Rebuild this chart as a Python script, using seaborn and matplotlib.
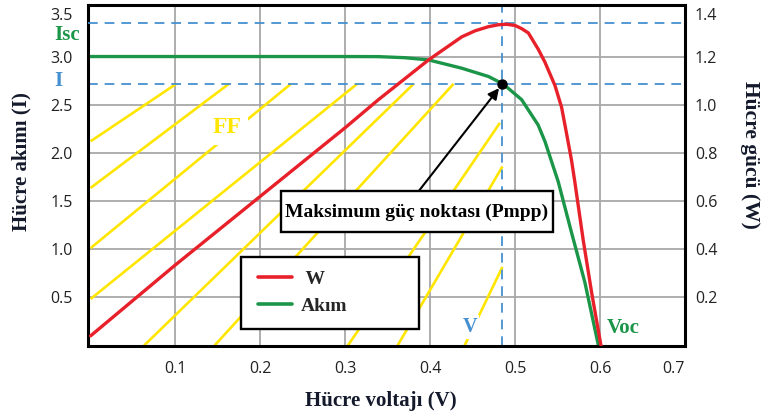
import matplotlib
matplotlib.use("Agg")
import matplotlib.pyplot as plt
import pandas as pd
import seaborn as sns
from matplotlib.lines import Line2D
from matplotlib.patches import Rectangle

# ---- data -------------------------------------------------------------
# I-V characteristic of the cell (current, A)
voltage_iv = [0.0, 0.10, 0.20, 0.30, 0.339, 0.370, 0.398, 0.437, 0.4685, 0.486,
              0.5076, 0.527, 0.535, 0.5507, 0.5663, 0.582, 0.598]
current_iv = [3.0, 3.0, 3.0, 3.0, 2.999, 2.988, 2.965, 2.879, 2.793, 2.714,
              2.552, 2.29, 2.12, 1.70, 1.174, 0.658, 0.0]

# P-V characteristic of the cell (power, W)
voltage_pv = [0.0, 0.10, 0.20, 0.30, 0.339, 0.398, 0.4372, 0.4529, 0.4685, 0.4802,
              0.490, 0.4998, 0.5076, 0.5155, 0.5272, 0.5351, 0.5468, 0.5546,
              0.5605, 0.5663, 0.5702, 0.580, 0.590, 0.601]
power_pv = [0.04, 0.335, 0.62, 0.905, 1.021, 1.186, 1.282, 1.307, 1.324, 1.332,
            1.334, 1.329, 1.316, 1.298, 1.230, 1.176, 1.080, 0.990,
            0.880, 0.770, 0.680, 0.440, 0.220, 0.0]

# maximum power point
v_mpp = 0.485
i_mpp = 2.717
p_max = 1.34

# fill-factor hatching: (start V, start I) -> (end V, end I)
ff_hatch = [
    ((0.0, 2.12), (0.101, 2.717)),
    ((0.0, 1.636), (0.163, 2.717)),
    ((0.0, 1.011), (0.236, 2.717)),
    ((0.0, 0.483), (0.314, 2.717)),
    ((0.063, 0.0), (0.3805, 2.717)),
    ((0.146, 0.0), (0.4275, 2.717)),
    ((0.303, 0.0), (0.482, 2.311)),
    ((0.3615, 0.0), (0.485, 1.859)),
    ((0.4404, 0.0), (0.485, 0.816)),
]

x_ticks = [0.1, 0.2, 0.3, 0.4, 0.5, 0.6, 0.7]
x_tick_labels = ["0.1", "0.2", "0.3", "0.4", "0.5", "0.6", "0.7"]
i_ticks = [0.5, 1.0, 1.5, 2.0, 2.5, 3.0, 3.5]
i_tick_labels = ["0.5", "1.0", "1.5", "2.0", "2.5", "3.0", "3.5"]
p_ticks = [0.2, 0.4, 0.6, 0.8, 1.0, 1.2, 1.4]
p_tick_labels = ["0.2", "0.4", "0.6", "0.8", "1.0", "1.2", "1.4"]

# ---- style ------------------------------------------------------------
sns.set_theme(style="white")
plt.rcParams["font.family"] = ["Open Sans", "DejaVu Sans"]

SERIF = ["Liberation Serif", "DejaVu Serif"]
RED = "#e8202a"
GREEN = "#1b9548"
BLUE = "#4590d0"
YELLOW = "#ffe600"
GRID = "#a8a8a8"
LABEL = "#141a2c"
TICK = "#222222"

fig = plt.figure(figsize=(7.62, 4.19), dpi=100)
ax = fig.add_axes([0.1155, 0.1754, 0.7835, 0.8115])
ax2 = ax.twinx()

iv = pd.DataFrame({"Gerilim": voltage_iv, "Akım": current_iv})
pv = pd.DataFrame({"Gerilim": voltage_pv, "Güç": power_pv})

# ---- curves -----------------------------------------------------------
sns.lineplot(data=iv, x="Gerilim", y="Akım", ax=ax, color=GREEN, lw=2.4,
             sort=False, legend=False, zorder=4, solid_joinstyle="round")
sns.lineplot(data=pv, x="Gerilim", y="Güç", ax=ax2, color=RED, lw=2.4,
             sort=False, legend=False, zorder=4, solid_joinstyle="round")

# fill-factor hatching
for (v0, c0), (v1, c1) in ff_hatch:
    ax.plot([v0, v1], [c0, c1], color=YELLOW, lw=1.9,
            solid_capstyle="butt", zorder=1.5)

# reference lines of the maximum power point
dash_lw = 1.3
dash = (7.0 / dash_lw, 5.0 / dash_lw)
ax.axhline(i_mpp, color=BLUE, lw=dash_lw, dashes=dash, zorder=2)
ax.axvline(v_mpp, color=BLUE, lw=dash_lw, dashes=dash, zorder=2)
ax2.axhline(p_max, color=BLUE, lw=dash_lw, dashes=dash, zorder=2)

# ---- axes -------------------------------------------------------------
ax.set_xlim(-0.003, 0.70)
ax.set_ylim(0, 3.53)
ax2.set_ylim(0, 3.53 * 0.4)

ax.set_xticks(x_ticks, x_tick_labels)
ax.set_yticks(i_ticks, i_tick_labels)
ax2.set_yticks(p_ticks, p_tick_labels)
ax.set_xlabel("")
ax.set_ylabel("")
ax2.set_ylabel("")

ax.grid(True, color=GRID, lw=1.3)
ax2.grid(False)
ax.get_ygridlines()[-1].set_visible(False)

ax.tick_params(axis="x", length=0, labelsize=11.5, pad=11.5, colors=TICK)
ax.tick_params(axis="y", length=0, labelsize=11.5, pad=11, colors=TICK)
ax2.tick_params(axis="y", length=0, labelsize=11.5, pad=7, colors=TICK)
ax.get_xticklabels()[-1].set_ha("right")
ax.get_yticklabels()[-1].set_va("top")
ax2.get_yticklabels()[-1].set_va("top")

for sp in ax.spines.values():
    sp.set_color("black")
    sp.set_linewidth(2.2)
    sp.set_zorder(6)
for sp in ax2.spines.values():
    sp.set_visible(False)

# ---- annotations (in the power axes so they sit above every curve) ----
data = ax.transData

ax2.text(0.1605, 2.268, "FF", transform=data, color=YELLOW, fontsize=17,
         family=SERIF, weight="bold", ha="center", va="center",
         bbox=dict(boxstyle="square,pad=0.3", fc="white", ec="none"), zorder=5)
ax2.text(0.447, 0.191, "V", transform=data, color=BLUE, fontsize=14.5,
         family=SERIF, weight="bold", ha="center", va="center",
         bbox=dict(boxstyle="square,pad=0.1", fc="white", ec="none"), zorder=5)
ax2.text(0.6276, 0.181, "Voc", transform=data, color=GREEN, fontsize=15,
         family=SERIF, weight="bold", ha="center", va="center", zorder=5)
ax2.text(-0.0273, 3.223, "Isc", transform=data, color=GREEN, fontsize=15,
         family=SERIF, weight="bold", ha="center", va="center", clip_on=False)
ax2.text(-0.038, 2.743, "I", transform=data, color=BLUE, fontsize=15,
         family=SERIF, weight="bold", ha="center", va="center", clip_on=False)

# maximum power point marker and callout
ax2.plot([v_mpp], [i_mpp], transform=data, marker="o", ms=6.5,
         color="black", zorder=7)
ax2.annotate("", xy=(v_mpp, i_mpp), xycoords=data,
             xytext=(0.3865, 1.604), textcoords=data,
             arrowprops=dict(arrowstyle="-|>", color="black", lw=1.5,
                             mutation_scale=16, shrinkA=0, shrinkB=4),
             zorder=6)
ax2.add_patch(Rectangle((0.224, 1.175), 0.321, 0.429, transform=data,
                        fc="white", ec="black", lw=1.7, zorder=6))
ax2.text(0.3835, 1.385, "Maksimum güç noktası (Pmpp)", transform=data,
         color="black", fontsize=14, family=SERIF, weight="bold",
         ha="center", va="center", zorder=7)

# legend
ax2.add_patch(Rectangle((0.177, 0.176), 0.2094, 0.740, transform=data,
                        fc="white", ec="black", lw=1.7, zorder=6))
handles = [Line2D([], [], color=RED, lw=2.6), Line2D([], [], color=GREEN, lw=2.6)]
leg = ax2.legend(handles, [" W", "Akım"], loc="center left",
                 bbox_to_anchor=(0.1855, 0.548), bbox_transform=data,
                 frameon=False, borderpad=0, handlelength=1.75,
                 handletextpad=0.45, labelspacing=0.5,
                 prop=dict(family=SERIF, weight="bold", size=14))
leg.set_zorder(8)

# axis titles
fig.text(381 / 762, 1 - 401 / 419, "Hücre voltajı (V)", ha="center",
         va="center", family=SERIF, weight="bold", fontsize=15, color=LABEL)
fig.text(21.5 / 762, 1 - 162 / 419, "Hücre akımı (I)", ha="center",
         va="center", rotation=90, family=SERIF, weight="bold", fontsize=15,
         color=LABEL)
fig.text(750 / 762, 1 - 155 / 419, "Hücre gücü (W)", ha="center",
         va="center", rotation=-90, family=SERIF, weight="bold", fontsize=15.5,
         color=LABEL)

fig.savefig("out.png", dpi=100)
